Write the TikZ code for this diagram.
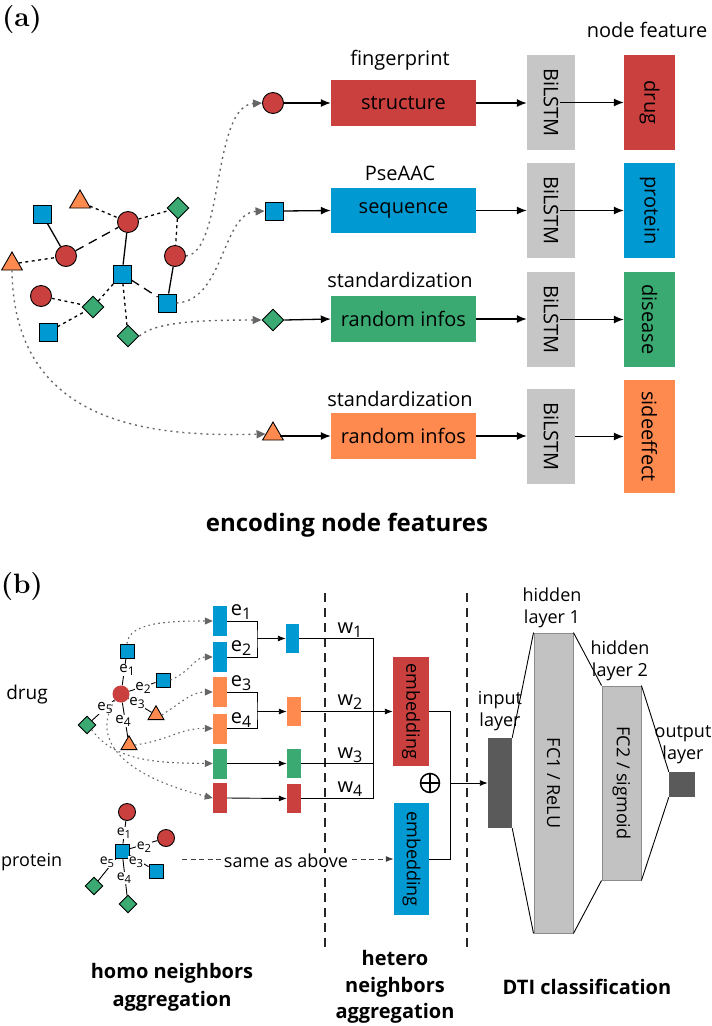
\documentclass[tikz,border=0pt]{standalone}
\usepackage{fontspec}
\usepackage{graphicx}
\setsansfont{Open Sans}
\usetikzlibrary{shapes.geometric,arrows.meta}
\definecolor{cred}{HTML}{C9403F}
\definecolor{cblue}{HTML}{0099D2}
\definecolor{cgreen}{HTML}{3BAA72}
\definecolor{corange}{HTML}{FF8A50}
\definecolor{cgray}{HTML}{C6C6C6}
\definecolor{cfc}{HTML}{C2C2C2}
\definecolor{cfcb}{HTML}{8C8C8C}
\definecolor{cdark}{HTML}{5A5A5A}
\definecolor{cdot}{HTML}{666666}
\newcommand{\rot}[1]{\rotatebox{-90}{#1}}
\newcommand{\sbx}[1]{\raisebox{-0.35ex}{\scalebox{0.8}{#1}}}
\begin{document}
\begin{tikzpicture}[x=1pt,y=-1pt,
  t20/.style={font=\sffamily\fontsize{20}{24}\selectfont,inner sep=0},
  t18/.style={font=\sffamily\fontsize{18}{22}\selectfont,inner sep=0,align=center},
  ttl/.style={font=\sffamily\bfseries\fontsize{20}{28}\selectfont,inner sep=0,align=center},
  lbl/.style={font=\rmfamily\bfseries\fontsize{28}{30}\selectfont,inner sep=0},
  fb/.style={inner sep=0,draw=none,font=\sffamily\fontsize{20}{24}\selectfont},
  fb18/.style={inner sep=0,draw=none,font=\sffamily\fontsize{18}{22}\selectfont},
  arr/.style={-{Latex[length=10pt,width=8pt]},line width=1.3pt},
  arrs/.style={-{Latex[length=8pt,width=6pt]},line width=0.9pt},
  ln/.style={line width=0.9pt},
  gnode/.style={draw=black,line width=0.9pt,inner sep=0},
  gcirc/.style={gnode,circle,fill=cred,minimum size=21pt},
  gsq/.style={gnode,rectangle,fill=cblue,minimum size=18pt},
  gdia/.style={gnode,diamond,fill=cgreen,minimum width=22pt,minimum height=22pt},
  gtri/.style={gnode,regular polygon,regular polygon sides=3,fill=corange,minimum size=24pt},
  scirc/.style={circle,fill=cred,minimum size=17pt,inner sep=0},
  scircb/.style={gnode,circle,fill=cred,minimum size=17pt},
  ssq/.style={gnode,rectangle,fill=cblue,minimum size=14pt},
  sdia/.style={gnode,diamond,fill=cgreen,minimum width=18pt,minimum height=18pt},
  stri/.style={gnode,regular polygon,regular polygon sides=3,fill=corange,minimum size=18.5pt},
  gsolid/.style={line width=1.3pt},
  gshort/.style={line width=1.3pt,dash pattern=on 3pt off 3.5pt},
  glong/.style={line width=1.3pt,dash pattern=on 9pt off 6pt},
  dotarr/.style={draw=cdot,line width=1.4pt,dash pattern=on 2pt off 4pt,-{Triangle[length=9pt,width=8pt,fill=cdot]}},
  dotarrs/.style={draw=cdot,line width=1.1pt,dash pattern=on 1.6pt off 3.4pt,-{Triangle[length=8pt,width=7pt,fill=cdot]}},
  elab/.style={font=\sffamily\fontsize{15}{17}\selectfont,fill=white,inner sep=0.6pt},
  elabp/.style={font=\sffamily\fontsize{14}{16}\selectfont,fill=white,inner sep=0.6pt},
  blab/.style={font=\sffamily\fontsize{20}{24}\selectfont,inner sep=0},
  vdash/.style={line width=2pt,draw=black!85,dash pattern=on 9pt off 6pt},
  thinl/.style={line width=0.9pt},
  fcbox/.style={draw=cfcb,line width=0.9pt,fill=cfc,inner sep=0,font=\sffamily\fontsize{18}{22}\selectfont}
]
\fill[white] (0,0) rectangle (712,1026);
\useasboundingbox (0,0) rectangle (712,1026);

% ================= (a) =================
\node[lbl] (la) at (22,20) {(a)};

% graph
\node[gtri] (A1) at (80,202) {};
\node[gsq] (S1) at (42,214) {};
\node[gcirc] (C1) at (128,222) {};
\node[gdia] (D1) at (178,208) {};
\node[gcirc] (C2) at (66,256) {};
\node[gtri] (A2) at (12,264) {};
\node[gcirc] (C3) at (175,256) {};
\node[gsq] (S2) at (122,274) {};
\node[gcirc] (C4) at (41,296) {};
\node[gdia] (D2) at (93,307) {};
\node[gsq] (S3) at (167,303) {};
\node[gsq] (S4) at (48,332) {};
\node[gdia] (D3) at (128,336) {};

\draw[gsolid] (S1) -- (C2);
\draw[glong] (C2) -- (C1);
\draw[gshort] (A1) -- (C1);
\draw[gshort] (C1) -- (D1);
\draw[gshort] (D1) -- (C3);
\draw[gshort] (A2) -- (C2);
\draw[gsolid] (C1) -- (S2);
\draw[gsolid] (C3) -- (S3);
\draw[glong] (S2) -- (S3);
\draw[gshort] (C4) -- (D2);
\draw[gshort] (S4) -- (D2);
\draw[gshort] (D2) -- (S2);
\draw[gshort] (S2) -- (D3);

% row shapes
\node[gcirc] (P1) at (273,103) {};
\node[gsq] (P2) at (274,211) {};
\node[gdia] (P3) at (273,320) {};
\node[gtri] (P4) at (273,434) {};

\draw[dotarr] (C3.east) .. controls (224,252) and (212,106) .. (P1.west);
\draw[dotarr] (S3.east) .. controls (224,301) and (222,213) .. (P2.west);
\draw[dotarr] (D3.east) .. controls (155,322) and (200,320) .. (P3.west);
\draw[dotarr] (A2.south) .. controls (14,425) and (150,437) .. (P4.west);

% feature boxes
\node[fb,fill=cred,minimum width=145pt,minimum height=46pt] (R1) at (403.5,103) {structure};
\node[fb,fill=cblue,minimum width=145pt,minimum height=45pt] (R2) at (403.5,210.5) {sequence};
\node[fb,fill=cgreen,minimum width=145pt,minimum height=46pt] (R3) at (403.5,319) {random infos};
\node[fb,fill=corange,minimum width=145pt,minimum height=46pt] (R4) at (403.5,436) {random infos};

\node[t20] (h1) at (400,60) {fingerprint};
\node[t20] (h2) at (400,173) {PseAAC};
\node[t20] (h3) at (400,280) {standardization};
\node[t20] (h4) at (400,399) {standardization};
\node[t20] (h5) at (647,30) {node feature};

\node[fb,fill=cgray,minimum width=48pt,minimum height=95pt] (B1) at (551,102.5) {\rot{BiLSTM}};
\node[fb,fill=cgray,minimum width=48pt,minimum height=95pt] (B2) at (551,210.5) {\rot{BiLSTM}};
\node[fb,fill=cgray,minimum width=48pt,minimum height=95pt] (B3) at (551,319.5) {\rot{BiLSTM}};
\node[fb,fill=cgray,minimum width=48pt,minimum height=95pt] (B4) at (551,436.5) {\rot{BiLSTM}};

\node[fb,fill=cred,minimum width=51pt,minimum height=95pt] (F1) at (649.5,102.5) {\rot{drug}};
\node[fb,fill=cblue,minimum width=51pt,minimum height=95pt] (F2) at (649.5,210.5) {\rot{protein}};
\node[fb,fill=cgreen,minimum width=51pt,minimum height=95pt] (F3) at (649.5,319.5) {\rot{disease}};
\node[fb,fill=corange,minimum width=51pt,minimum height=113pt] (F4) at (649.5,436.5) {\rot{sideeffect}};

\draw[arr] (P1.east) -- (R1.west);
\draw[arr] (P2.east) -- (R2.west);
\draw[arr] (P3.east) -- (R3.west);
\draw[arr] (P4.east |- R4.west) -- (R4.west);
\draw[arr] (R1.east) -- (R1.east -| B1.west);
\draw[arr] (R2.east) -- (R2.east -| B2.west);
\draw[arr] (R3.east) -- (R3.east -| B3.west);
\draw[arr] (R4.east) -- (R4.east -| B4.west);
\draw[arr] ([xshift=9pt]B1.center) -- (B1.center -| F1.west);
\draw[arr] ([xshift=9pt]B2.center) -- (B2.center -| F2.west);
\draw[arr] ([xshift=9pt]B3.center) -- (B3.center -| F3.west);
\draw[arr] (B4.east) -- (B4.east -| F4.west);

\node[font=\sffamily\bfseries\fontsize{24}{28}\selectfont,inner sep=0] (tA) at (347,525) {encoding node features};

% ================= (b) =================
\node[lbl] (lb) at (22,587) {(b)};

% dashed separators
\coordinate (v1t) at (325,593); \coordinate (v1b) at (325,952);
\coordinate (v2t) at (467,593); \coordinate (v2b) at (467,951);
\draw[vdash] (v1t) -- (v1b);
\draw[vdash] (v2t) -- (v2b);

\node[t18,font=\sffamily\fontsize{19}{22}\selectfont] (ldrug) at (27,695) {drug};
\node[t18,font=\sffamily\fontsize{18}{22}\selectfont,anchor=west] (lprot) at (1,862) {protein};

% drug graph
\node[scirc] (Cd) at (121,694) {};
\node[ssq] (N1) at (127,651) {};
\node[ssq] (N2) at (163,680) {};
\node[stri] (N3) at (156,715) {};
\node[stri] (N4) at (129,745) {};
\node[sdia] (N5) at (87,725) {};
\draw[thinl] (Cd) -- (N1);
\draw[thinl] (Cd) -- (N2);
\draw[thinl] (Cd) -- (N3);
\draw[thinl] (Cd) -- (N4);
\draw[thinl] (Cd) -- (N5);
\node[elab] at (127,670) {e\sbx{1}};
\node[elab] at (143,688) {e\sbx{2}};
\node[elab] at (137,703) {e\sbx{3}};
\node[elab] at (123,721) {e\sbx{4}};
\node[elab] at (105,708) {e\sbx{5}};

% bars
\node[inner sep=0,fill=cblue,minimum width=14pt,minimum height=30pt] (E1) at (220,621) {};
\node[inner sep=0,fill=cblue,minimum width=14pt,minimum height=30pt] (E2) at (220,657) {};
\node[inner sep=0,fill=corange,minimum width=14pt,minimum height=30pt] (E3) at (220,692) {};
\node[inner sep=0,fill=corange,minimum width=14pt,minimum height=30pt] (E4) at (220,728.5) {};
\node[inner sep=0,fill=cgreen,minimum width=14pt,minimum height=30pt] (E5) at (220,763.5) {};
\node[inner sep=0,fill=cred,minimum width=14pt,minimum height=30pt] (E6) at (220,798) {};

\draw[dotarrs] (N1.north) .. controls (129,622) and (170,621) .. (E1.west);
\draw[dotarrs] (N2.east) .. controls (190,672) and (195,657) .. (E2.west);
\draw[dotarrs] (N3.east) .. controls (185,700) and (192,692) .. (E3.west);
\draw[dotarrs] (N4.east) .. controls (170,740) and (180,728) .. (E4.west);
\draw[dotarrs] (N5.south east) .. controls (115,762) and (160,763) .. (E5.west);
\draw[dotarrs] (Cd.south west) .. controls (86,748) and (140,780) .. (E6.west);

\node[blab] at (241,612) {e\sbx{1}};
\node[blab] at (241,648) {e\sbx{2}};
\node[blab] at (241,683) {e\sbx{3}};
\node[blab] at (241,720) {e\sbx{4}};

\node[inner sep=0,fill=cblue,minimum width=13pt,minimum height=29pt] (G1) at (292.5,638.5) {};
\node[inner sep=0,fill=corange,minimum width=14pt,minimum height=29pt] (G2) at (294,711.5) {};
\node[inner sep=0,fill=cgreen,minimum width=14pt,minimum height=29pt] (G3) at (294,763.5) {};
\node[inner sep=0,fill=cred,minimum width=14pt,minimum height=29pt] (G4) at (294,798.5) {};

\coordinate (j1) at (257,638.5);
\coordinate (j2) at (257,711.5);
\draw[ln] (E1.east) -| (j1) |- (E2.east);
\draw[ln] (E3.east) -| (j2) |- (E4.east);
\draw[arrs] (j1) -- (G1.west);
\draw[arrs] (j2) -- (G2.west);
\draw[arrs] (E5.east) -- (G3.west);
\draw[arrs] (E6.east) -- (G4.west);

% embeddings
\node[fb18,fill=cred,minimum width=36pt,minimum height=109pt] (M1) at (411,711.5) {\rot{embedding}};
\node[fb18,fill=cblue,minimum width=35pt,minimum height=112pt] (M2) at (411.5,859) {\rot{embedding}};

\coordinate (vt) at (373,638.5);
\coordinate (vb) at (373,798.5);
\draw[ln] (G1.east) -- (vt) -- (vb) -- (G4.east);
\draw[ln] (G3.east) -- (G3.east -| vt);
\draw[arrs] (G2.east) -- (M1.west);
\node[blab] at (350,630) {w\sbx{1}};
\node[blab] at (350,702) {w\sbx{2}};
\node[blab] at (350,755) {w\sbx{3}};
\node[blab] at (350,789) {w\sbx{4}};

% oplus symbol
\node[circle,draw,line width=1.5pt,minimum size=19pt,inner sep=0] (op) at (430,783) {};
\draw[line width=1.5pt] (op.north) -- (op.south) (op.west) -- (op.east);

% protein graph
\node[scircb] (Q0) at (127,812) {};
\node[ssq] (Qs) at (122,851) {};
\node[scircb] (Q2) at (166,838) {};
\node[ssq] (Q3) at (156,871) {};
\node[sdia] (Q4) at (128,904) {};
\node[sdia] (Q5) at (94,886) {};
\draw[thinl] (Qs) -- (Q0);
\draw[thinl] (Qs) -- (Q2);
\draw[thinl] (Qs) -- (Q3);
\draw[thinl] (Qs) -- (Q4);
\draw[thinl] (Qs) -- (Q5);
\node[elabp] at (124,833) {e\sbx{1}};
\node[elabp] at (144,847) {e\sbx{2}};
\node[elabp] at (136,862) {e\sbx{3}};
\node[elabp] at (124,878) {e\sbx{4}};
\node[elabp] at (107,862) {e\sbx{5}};

\coordinate (sa) at (182,859);
\draw[line width=1pt,draw=black!75,dash pattern=on 5pt off 3.5pt,-{Latex[length=8pt,width=6pt]}] (sa) -- (M2.west);
\node[t18,fill=white,inner xsep=2pt,inner ysep=1pt] (same) at (286,861) {same as above};

% DTI
\node[inner sep=0,fill=cdark,minimum width=24pt,minimum height=90pt] (IN) at (500,783) {};
\node[fcbox,minimum width=39pt,minimum height=300pt] (FC1) at (553.5,783) {\rot{FC1 / ReLU}};
\node[fcbox,minimum width=39pt,minimum height=194pt] (FC2) at (621.5,783) {\rot{FC2 / sigmoid}};
\node[inner sep=0,fill=cdark,minimum width=26pt,minimum height=25pt] (OUT) at (682,784.5) {};

\coordinate (ja) at (450,711.5);
\coordinate (jb) at (450,859);
\coordinate (jc) at (450,783);
\draw[thinl] (M1.east) -- (ja) -- (jb) -- (M2.east);
\draw[-{Latex[length=8pt,width=6pt]},thinl] (jc) -- (IN.west);

\draw[thinl] (IN.north east) -- (FC1.north west);
\draw[thinl] (IN.south east) -- (FC1.south west);
\draw[thinl] (FC1.north east) -- (FC2.north west);
\draw[thinl] (FC1.south east) -- (FC2.south west);
\draw[thinl] (FC2.north east) -- (OUT.north west);
\draw[thinl] (FC2.south east) -- (OUT.south west);

\node[t18] (tin) at (500,711) {input\\layer};
\node[t18] (th1) at (552,608) {hidden\\layer 1};
\node[t18] (th2) at (620,661) {hidden\\layer 2};
\node[t18] (tout) at (683,745) {output\\layer};

\node[ttl] (tb1) at (172,987) {homo neighbors\\aggregation};
\node[ttl,font=\sffamily\bfseries\fontsize{20}{26.5}\selectfont] (tb2) at (395,987) {hetero\\neighbors\\aggregation};
\node[ttl] (tb3) at (587,987) {DTI classification};
\end{tikzpicture}
\end{document}
